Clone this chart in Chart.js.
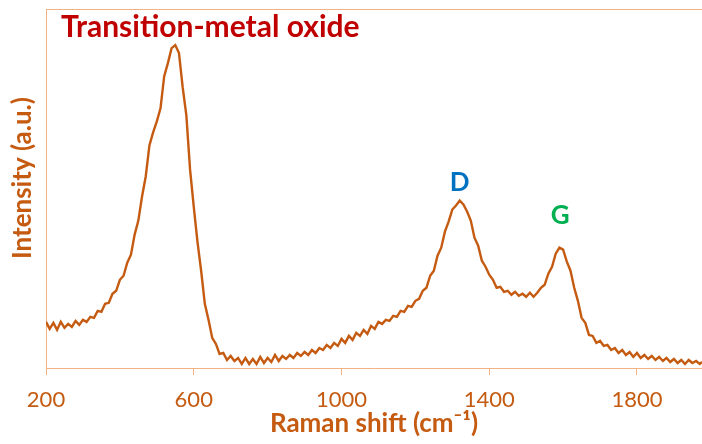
<!DOCTYPE html>
<html><head><meta charset="utf-8">
<script src="https://cdn.jsdelivr.net/npm/chart.js@4"></script>
<style>html,body{margin:0;padding:0;background:#fff}#wrap{width:702px;height:444px}</style>
</head><body><div id="wrap"><canvas id="c" width="702" height="444"></canvas></div>
<script>
// Raman shift (cm-1)
const ramanShift = [200,210,220,230,240,250,260,270,280,290,300,310,320,330,340,350,360,370,380,390,400,410,420,430,440,450,460,470,480,490,500,510,520,530,540,550,560,570,580,590,600,610,620,630,640,650,660,670,680,690,700,710,720,730,740,750,760,770,780,790,800,810,820,830,840,850,860,870,880,890,900,910,920,930,940,950,960,970,980,990,1000,1010,1020,1030,1040,1050,1060,1070,1080,1090,1100,1110,1120,1130,1140,1150,1160,1170,1180,1190,1200,1210,1220,1230,1240,1250,1260,1270,1280,1290,1300,1310,1320,1330,1340,1350,1360,1370,1380,1390,1400,1410,1420,1430,1440,1450,1460,1470,1480,1490,1500,1510,1520,1530,1540,1550,1560,1570,1580,1590,1600,1610,1620,1630,1640,1650,1660,1670,1680,1690,1700,1710,1720,1730,1740,1750,1760,1770,1780,1790,1800,1810,1820,1830,1840,1850,1860,1870,1880,1890,1900,1910,1920,1930,1940,1950,1960,1970,1976];
// Intensity (a.u.)
const intensity = [46,39,45,38,46,40,44,41,47,43,48,46,51,50,57,56,64,65,74,77,88,92,105,113,133,147,171,191,222,235,246,259,291,304,319,322,314,280,252,198,161,126,97,64,48,30,24,14,15,8,12,7,10,4,10,4,9,4,11,5,10,6,13,7,12,9,13,10,15,12,16,13,18,15,20,18,23,20,25,22,29,25,32,28,35,32,38,34,42,39,46,44,48,47,52,51,57,56,62,61,67,69,77,80,92,97,112,120,136,146,158,162,167,163,156,147,130,122,107,101,93,88,80,81,76,77,73,76,72,74,71,75,71,75,80,83,94,101,114,120,118,106,97,80,67,50,45,33,32,25,27,22,23,18,20,15,18,13,16,11,15,10,13,9,12,8,11,7,10,6,9,5,8,4,8,5,7,4,6];
const xTickValues = [200,600,1000,1400,1800];
const peakNames = ['D','G'];
const peakShift = [1320,1592];
const peakLabelLevel = [185,152];
const peakColors = ['#0070C0','#00B050'];
const chartTitle = 'Transition-metal oxide';
const xTitle = 'Raman shift (cm\u207B\u00B9)';
const yTitle = 'Intensity (a.u.)';

const ORANGE = '#C55A11';
const AXIS = '#F4B183';
const FONT = 'Lato, "Open Sans", sans-serif';

const decor = {
  id: 'decor',
  afterDraw(chart) {
    const {ctx, chartArea: a, scales} = chart;
    ctx.save();
    ctx.strokeStyle = AXIS; ctx.lineWidth = 1;
    ctx.beginPath(); ctx.moveTo(a.left, a.top + 0.5); ctx.lineTo(a.right, a.top + 0.5); ctx.stroke();
    ctx.fillStyle = '#C00000';
    ctx.font = 'bold 30px ' + FONT;
    ctx.textAlign = 'left'; ctx.textBaseline = 'alphabetic';
    ctx.fillText(chartTitle, 61, 37);
    ctx.font = 'bold 26px ' + FONT;
    ctx.textAlign = 'center'; ctx.textBaseline = 'middle';
    peakNames.forEach((t, i) => {
      ctx.fillStyle = peakColors[i];
      ctx.fillText(t, scales.x.getPixelForValue(peakShift[i]), scales.y.getPixelForValue(peakLabelLevel[i]));
    });
    ctx.fillStyle = ORANGE;
    ctx.font = 'bold 26px ' + FONT;
    ctx.translate(23, 178); ctx.rotate(-Math.PI / 2);
    ctx.fillText(yTitle, 0, 0);
    ctx.restore();
  }
};

new Chart(document.getElementById('c'), {
  type: 'line',
  data: {
    datasets: [{
      data: ramanShift.map((x, i) => ({x, y: intensity[i]})),
      borderColor: ORANGE, borderWidth: 2.4, pointRadius: 0, tension: 0, fill: false
    }]
  },
  options: {
    responsive: false, animation: false, devicePixelRatio: 1,
    layout: {padding: {top: 9, right: 0, left: 0, bottom: 0}},
    plugins: {legend: {display: false}, tooltip: {enabled: false}},
    scales: {
      x: {
        type: 'linear', min: 200, max: 1976,
        afterBuildTicks: s => { s.ticks = xTickValues.map(v => ({value: v})); },
        afterFit: s => { s.height = 76; },
        ticks: {color: ORANGE, font: {family: FONT, size: 22}, padding: 12, maxRotation: 0, callback: v => String(v)},
        grid: {drawOnChartArea: false, drawTicks: true, tickLength: 7, color: AXIS},
        border: {color: AXIS, width: 1},
        title: {display: true, text: xTitle, color: ORANGE, font: {family: FONT, size: 26, weight: 'bold'}, padding: {top: 0, bottom: 5}}
      },
      y: {
        min: 0, max: 358,
        afterFit: s => { s.width = 46; },
        ticks: {display: false},
        grid: {drawOnChartArea: false, drawTicks: false},
        border: {color: AXIS, width: 1}
      }
    }
  },
  plugins: [decor]
});
</script>
</body></html>
